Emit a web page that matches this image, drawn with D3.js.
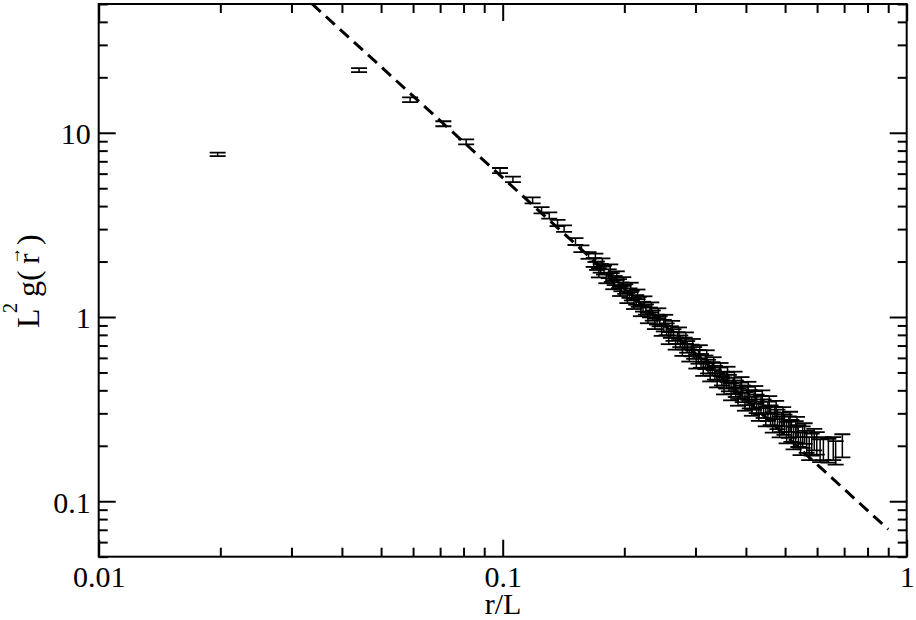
<!DOCTYPE html>
<html>
<head>
<meta charset="utf-8">
<script src="https://cdn.jsdelivr.net/npm/d3@7"></script>
<style>
  html, body { margin: 0; padding: 0; background: #fff; }
  svg { display: block; }
  text { font-family: "Liberation Serif", "Times New Roman", Times, serif; fill: #000; }
</style>
</head>
<body>
<svg id="chart" width="916" height="620"></svg>
<script>
// ---- data ----
const rL = [0.0197, 0.0441, 0.0590, 0.0713, 0.0812, 0.0985, 0.1060, 0.1186, 0.1248, 0.1304,
  0.1367, 0.1419, 0.1514, 0.1566, 0.1631,
  0.1680, 0.1696, 0.1712, 0.1730, 0.1748, 0.1765, 0.1781, 0.1805, 0.1830, 0.1846,
  0.1862, 0.1878, 0.1893, 0.1916, 0.1940, 0.1953, 0.1967, 0.1988, 0.2010, 0.2035,
  0.2060, 0.2074, 0.2088, 0.2114, 0.2140, 0.2156, 0.2172, 0.2198, 0.2225, 0.2243,
  0.2262, 0.2288, 0.2315, 0.2333, 0.2352, 0.2381, 0.2410, 0.2428, 0.2446, 0.2475,
  0.2505, 0.2525, 0.2546, 0.2577, 0.2608, 0.2627, 0.2647, 0.2680, 0.2712, 0.2731,
  0.2751, 0.2785, 0.2820, 0.2841, 0.2862, 0.2897, 0.2933, 0.2955, 0.2978, 0.3015,
  0.3052, 0.3075, 0.3097, 0.3136, 0.3175, 0.3199, 0.3223, 0.3263, 0.3304, 0.3328,
  0.3352, 0.3394, 0.3437, 0.3462, 0.3488, 0.3531, 0.3575, 0.3602, 0.3630, 0.3675,
  0.3720, 0.3748, 0.3776, 0.3823, 0.3870, 0.3900, 0.3929, 0.3978, 0.4026, 0.4056,
  0.4087, 0.4138, 0.4189, 0.4220, 0.4252, 0.4305, 0.4358, 0.4391, 0.4424, 0.4479,
  0.4534, 0.4568, 0.4603, 0.4660, 0.4717, 0.4752, 0.4788, 0.4848, 0.4907, 0.4945,
  0.4982, 0.5044, 0.5106, 0.5145, 0.5183, 0.5248, 0.5312, 0.5352, 0.5392, 0.5460,
  0.5527, 0.5590, 0.5655, 0.5737, 0.5820, 0.5905, 0.5990, 0.6105, 0.6220, 0.6400,
  0.6580, 0.6670, 0.6930];
const gVal = [7.63, 21.9, 15.1, 11.2, 8.93, 6.24, 5.59, 4.30, 3.80, 3.56,
  3.24, 3.02, 2.57, 2.35, 2.16,
  1.98, 2.10, 1.90, 1.74, 1.84, 1.98, 1.80, 1.62, 1.72, 1.83,
  1.64, 1.50, 1.58, 1.68, 1.52, 1.38, 1.46, 1.56, 1.42, 1.27,
  1.35, 1.45, 1.31, 1.18, 1.24, 1.33, 1.21, 1.08, 1.14, 1.22,
  1.10, 0.99, 1.06, 1.13, 1.02, 0.92, 0.97, 1.05, 0.95, 0.85,
  0.90, 0.96, 0.86, 0.77, 0.83, 0.89, 0.80, 0.72, 0.77, 0.82,
  0.74, 0.665, 0.72, 0.77, 0.69, 0.62, 0.66, 0.71, 0.64, 0.575,
  0.61, 0.65, 0.58, 0.525, 0.57, 0.61, 0.54, 0.49, 0.525, 0.56,
  0.50, 0.455, 0.49, 0.52, 0.465, 0.425, 0.455, 0.49, 0.44, 0.395,
  0.425, 0.46, 0.41, 0.37, 0.40, 0.43, 0.385, 0.35, 0.375, 0.40,
  0.36, 0.33, 0.355, 0.38, 0.34, 0.31, 0.335, 0.36, 0.32, 0.29,
  0.31, 0.335, 0.295, 0.27, 0.29, 0.315, 0.28, 0.255, 0.27, 0.29,
  0.262, 0.238, 0.255, 0.272, 0.243, 0.222, 0.24, 0.255, 0.228, 0.207,
  0.225, 0.235, 0.212, 0.195, 0.205, 0.218, 0.208, 0.19, 0.195, 0.190,
  0.195, 0.185, 0.202];
const gErr = [0.17, 0.55, 0.45, 0.35, 0.28, 0.20, 0.19, 0.16, 0.15, 0.14,
  0.13, 0.12, 0.11, 0.10, 0.09,
  0.11, 0.11, 0.10, 0.10, 0.10, 0.10, 0.10, 0.095, 0.095, 0.10,
  0.09, 0.085, 0.09, 0.09, 0.085, 0.08, 0.08, 0.085, 0.085, 0.08,
  0.08, 0.085, 0.08, 0.075, 0.075, 0.08, 0.075, 0.07, 0.07, 0.075,
  0.07, 0.065, 0.065, 0.07, 0.065, 0.06, 0.06, 0.065, 0.06, 0.06,
  0.065, 0.068, 0.063, 0.058, 0.06, 0.063, 0.058, 0.055, 0.056, 0.058,
  0.054, 0.05, 0.053, 0.055, 0.05, 0.047, 0.048, 0.05, 0.047, 0.05,
  0.052, 0.053, 0.05, 0.046, 0.048, 0.05, 0.046, 0.043, 0.044, 0.045,
  0.043, 0.04, 0.042, 0.043, 0.04, 0.045, 0.046, 0.047, 0.045, 0.042,
  0.043, 0.045, 0.042, 0.04, 0.041, 0.042, 0.04, 0.04, 0.043, 0.045,
  0.041, 0.039, 0.041, 0.042, 0.039, 0.037, 0.038, 0.04, 0.037, 0.035,
  0.037, 0.037, 0.036, 0.034, 0.035, 0.036, 0.034, 0.033, 0.033, 0.034,
  0.033, 0.032, 0.034, 0.034, 0.033, 0.031, 0.032, 0.032, 0.031, 0.029,
  0.03, 0.03, 0.029, 0.028, 0.028, 0.029, 0.029, 0.027, 0.028, 0.028,
  0.028, 0.027, 0.029];
// dashed power-law guide (slope -2), endpoints
const fitX = [0.0337, 0.90];
const fitY = [50.2, 0.0704];

const xMajor = [0.01, 0.1, 1];
const xMinor = [0.02,0.03,0.04,0.05,0.06,0.07,0.08,0.09,0.2,0.3,0.4,0.5,0.6,0.7,0.8,0.9];
const xLabels = ["0.01", "0.1", "1"];
const yMajor = [0.1, 1, 10];
const yMinor = [0.05,0.06,0.07,0.08,0.09,0.2,0.3,0.4,0.5,0.6,0.7,0.8,0.9,2,3,4,5,6,7,8,9,20,30,40,50];
const yLabels = ["0.1", "1", "10"];

// ---- layout ----
const L = 98.7, R = 906.7, T = 4, B = 556.7;
const svg = d3.select("#chart");
const x = d3.scaleLog().domain([0.01, 1]).range([L, R]);
const y = d3.scaleLog().domain([0.05, 50]).range([B, T]);

svg.append("defs").append("clipPath").attr("id", "clip")
  .append("rect").attr("x", L).attr("y", T).attr("width", R - L).attr("height", B - T);

function styleAxis(g) {
  g.select(".domain").remove();
  g.selectAll(".tick line").attr("stroke", "#000").attr("stroke-width", 2);
  g.selectAll("text").attr("font-size", 30).attr("fill", "#000");
}
// bottom
svg.append("g").attr("transform", `translate(0,${B})`)
  .call(d3.axisBottom(x).tickValues(xMajor).tickSize(-17).tickPadding(9)
    .tickFormat((d, i) => xLabels[i])).call(styleAxis);
svg.append("g").attr("transform", `translate(0,${B})`)
  .call(d3.axisBottom(x).tickValues(xMinor).tickSize(-9).tickFormat("")).call(styleAxis);
// top
svg.append("g").attr("transform", `translate(0,${T})`)
  .call(d3.axisTop(x).tickValues(xMajor).tickSize(-17).tickFormat("")).call(styleAxis);
svg.append("g").attr("transform", `translate(0,${T})`)
  .call(d3.axisTop(x).tickValues(xMinor).tickSize(-9).tickFormat("")).call(styleAxis);
// left
svg.append("g").attr("transform", `translate(${L},0)`)
  .call(d3.axisLeft(y).tickValues(yMajor).tickSize(-17).tickPadding(8)
    .tickFormat((d, i) => yLabels[i])).call(styleAxis)
  .selectAll("text").attr("dy", "0.36em");
svg.append("g").attr("transform", `translate(${L},0)`)
  .call(d3.axisLeft(y).tickValues(yMinor).tickSize(-9).tickFormat("")).call(styleAxis);
// right
svg.append("g").attr("transform", `translate(${R},0)`)
  .call(d3.axisRight(y).tickValues(yMajor).tickSize(-17).tickFormat("")).call(styleAxis);
svg.append("g").attr("transform", `translate(${R},0)`)
  .call(d3.axisRight(y).tickValues(yMinor).tickSize(-9).tickFormat("")).call(styleAxis);

// frame
svg.append("rect").attr("x", L).attr("y", T).attr("width", R - L).attr("height", B - T)
  .attr("fill", "none").attr("stroke", "#000").attr("stroke-width", 2);

const plot = svg.append("g").attr("clip-path", "url(#clip)");

// dashed line
plot.append("path")
  .datum(fitX.map((v, i) => [v, fitY[i]]))
  .attr("d", d3.line().x(d => x(d[0])).y(d => y(d[1])))
  .attr("fill", "none").attr("stroke", "#000").attr("stroke-width", 3)
  .attr("stroke-dasharray", "12,7");

// error bars
const pts = rL.map((v, i) => ({ x: v, y: gVal[i], e: gErr[i] }));
const cap = 8;
const eb = plot.append("g").attr("stroke", "#000");
pts.forEach(p => {
  const cx = x(p.x), y1 = y(p.y + p.e), y0 = y(p.y - p.e);
  eb.append("line").attr("x1", cx).attr("x2", cx).attr("y1", y1).attr("y2", y0).attr("stroke-width", 1.5);
  eb.append("line").attr("x1", cx - cap).attr("x2", cx + cap).attr("y1", y1).attr("y2", y1).attr("stroke-width", 1.8);
  eb.append("line").attr("x1", cx - cap).attr("x2", cx + cap).attr("y1", y0).attr("y2", y0).attr("stroke-width", 1.8);
});

// axis titles
svg.append("text").attr("x", 503).attr("y", 614).attr("text-anchor", "middle")
  .attr("font-size", 30).text("r/L");

const yt = svg.append("text").attr("transform", "translate(39,328) rotate(-90)")
  .attr("font-size", 32);
yt.append("tspan").attr("x", 0).attr("y", 0).text("L");
yt.append("tspan").attr("x", 15).attr("y", -22).attr("font-size", 20).text("2");
yt.append("tspan").attr("x", 31).attr("y", 0).text("g(");
yt.append("tspan").attr("x", 64).attr("y", 0).text("r");
yt.append("tspan").attr("x", 63).attr("y", -19).attr("font-size", 18).text("\u2192");
yt.append("tspan").attr("x", 83).attr("y", 0).text(")");
</script>
</body>
</html>
